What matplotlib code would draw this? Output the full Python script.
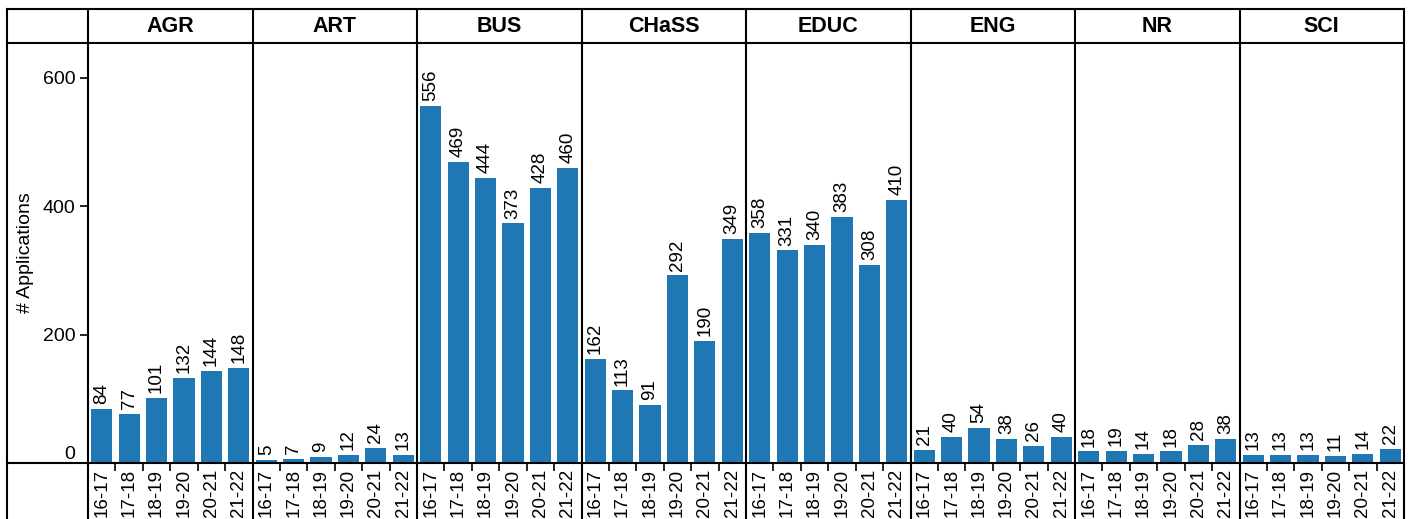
import matplotlib
matplotlib.use("Agg")
import matplotlib.pyplot as plt
from matplotlib.lines import Line2D
import numpy as np

plt.rcParams['font.family'] = ['Liberation Sans', 'DejaVu Sans']

colleges = ["AGR", "ART", "BUS", "CHaSS", "EDUC", "ENG", "NR", "SCI"]
years = ["16-17", "17-18", "18-19", "19-20", "20-21", "21-22"]
agr = [84, 77, 101, 132, 144, 148]
art = [5, 7, 9, 12, 24, 13]
bus = [556, 469, 444, 373, 428, 460]
chass = [162, 113, 91, 292, 190, 349]
educ = [358, 331, 340, 383, 308, 410]
eng = [21, 40, 54, 38, 26, 40]
nr = [18, 19, 14, 18, 28, 38]
sci = [13, 13, 13, 11, 14, 22]
values = [agr, art, bus, chass, educ, eng, nr, sci]
yticks = [0, 200, 400, 600]

W, H = 1413, 519
fig = plt.figure(figsize=(W / 100, H / 100), dpi=100)

x0, xl, xr = 7, 88, 1404
yt, yh, yb = 9, 43, 463
n = len(colleges)
pw = (xr - xl) / n
bar_color = "#1f77b4"
lw = 1.5

def fx(px):
    return px / W

def fy(py):
    return 1 - py / H

for i, (name, vals) in enumerate(zip(colleges, values)):
    left = xl + i * pw
    ax = fig.add_axes([fx(left), fy(yb), pw / W, (yb - yh) / H])
    xs = np.arange(len(years))
    ax.bar(xs, vals, width=0.77, color=bar_color)
    for x, v in zip(xs, vals):
        ax.annotate(str(v), (x, v), xytext=(0, 3.5), textcoords="offset points",
                    rotation=90, ha="center", va="bottom", fontsize=13.5)
    ax.set_xlim(-0.5, len(years) - 0.5)
    ax.set_ylim(0, 654)
    for s in ax.spines.values():
        s.set_visible(False)
    ax.set_xticks(xs)
    ax.set_xticklabels(years)
    ax.set_xticks(np.arange(0.5, len(years) - 1, 1.0), minor=True)
    ax.tick_params(axis="x", which="major", length=0, pad=4, labelrotation=90, labelsize=13.5)
    ax.tick_params(axis="x", which="minor", length=5.5, width=1.2, direction="out")
    if i == 0:
        ax.set_yticks(yticks)
        ax.set_yticklabels([str(t) for t in yticks])
        ax.tick_params(axis="y", length=5.5, width=1.2, pad=3.5, labelsize=14)
        ax.get_yticklabels()[0].set_va("bottom")
    else:
        ax.set_yticks([])
    ax.patch.set_alpha(0)
    fig.text(fx(left + pw / 2), fy((yt + yh) / 2), name, ha="center", va="center",
             fontsize=15.5, fontweight="bold")

# grid lines
for py in (yt, yh, yb):
    fig.add_artist(Line2D([fx(x0), fx(xr)], [fy(py), fy(py)], transform=fig.transFigure,
                          color="black", lw=lw, solid_capstyle="projecting"))
for px in [x0] + [xl + i * pw for i in range(n)] + [xr]:
    fig.add_artist(Line2D([fx(px), fx(px)], [fy(yt), 0], transform=fig.transFigure,
                          color="black", lw=lw, solid_capstyle="projecting"))

fig.text(fx(25), fy((yh + yb) / 2), "# Applications", rotation=90, ha="center",
         va="center", fontsize=14)

fig.savefig("out.png", dpi=100)
